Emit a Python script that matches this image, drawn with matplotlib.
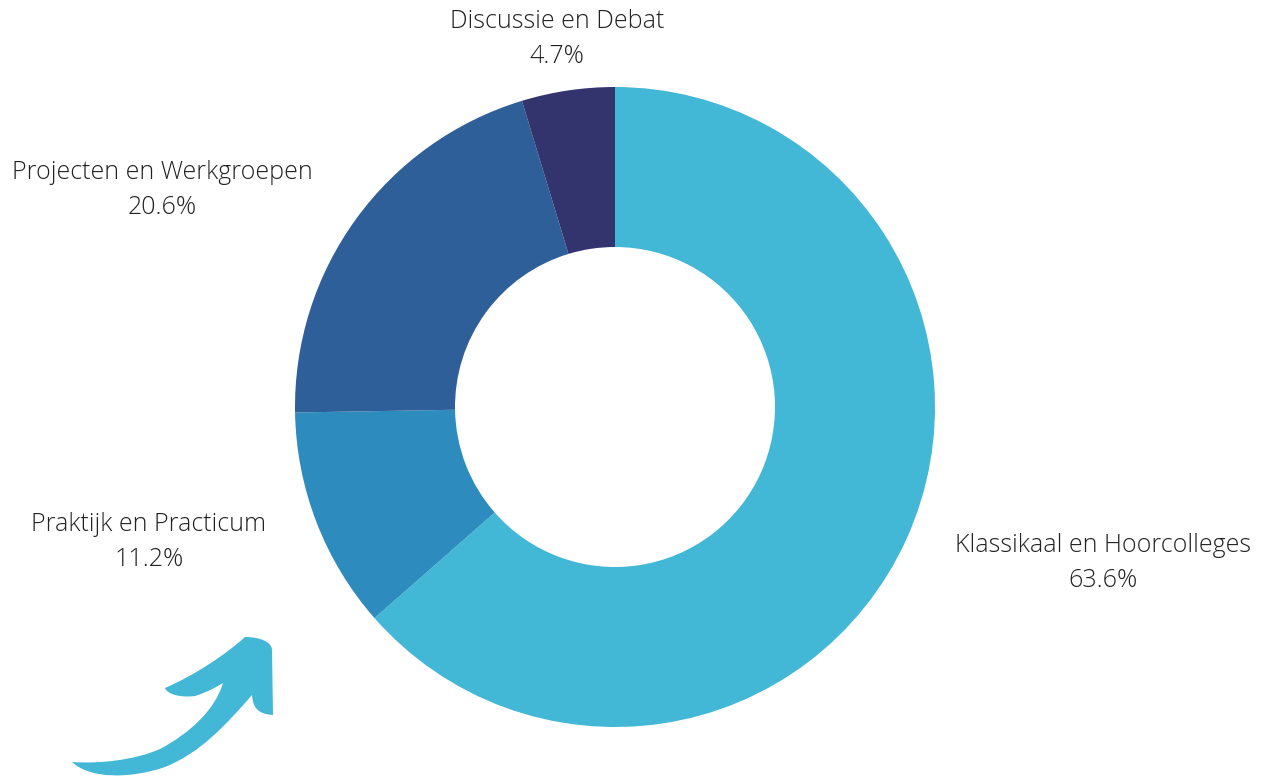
import matplotlib
matplotlib.use("Agg")
import matplotlib.pyplot as plt
from matplotlib.path import Path
from matplotlib.patches import PathPatch

# data
labels = ["Klassikaal en Hoorcolleges", "Praktijk en Practicum",
          "Projecten en Werkgroepen", "Discussie en Debat"]
shares = [63.6, 11.2, 20.6, 4.7]
colors = ["#42B7D6", "#2E8BBE", "#2F5F98", "#33336E"]

W, H = 1263, 781
fig = plt.figure(figsize=(W / 100, H / 100), dpi=100)
ax = fig.add_axes([0, 0, 1, 1])

cx, cy, R = 615, H - 407, 320
ax.pie(shares, colors=colors, startangle=90, counterclock=False,
       center=(cx, cy), radius=R, frame=True,
       wedgeprops=dict(width=R * 0.5, linewidth=0))
ax.set_xlim(0, W)
ax.set_ylim(0, H)
ax.set_aspect("equal")
ax.axis("off")

# label anchors in image px (centre of the two-line block)
label_pos = [(1103, 563), (149, 542), (162, 190), (557, 39)]
font = dict(family=["Open Sans", "DejaVu Sans"], fontweight="light",
            fontsize=18, color="#222222")
for lab, val, (x, y) in zip(labels, shares, label_pos):
    ax.text(x, H - y, f"{lab}\n{val:.1f}%", ha="center", va="center",
            linespacing=1.52, **font)

# hand-drawn style arrow, bottom left
pts = [
    (72, 762),
    (90, 779), (130, 779), (165, 767),
    (200, 753), (225, 726), (252, 695),
    (253, 708), (258, 714), (273, 715),
    (272, 650),
    (272, 642), (260, 637), (245, 637),
    (225, 655), (195, 675), (165, 688),
    (167, 694), (180, 698), (195, 696),
    (205, 693), (215, 688), (223, 683),
    (215, 710), (190, 733), (160, 749),
    (135, 760), (100, 764), (72, 762),
    (72, 762),
]
codes = ([Path.MOVETO] + [Path.CURVE4] * 6 + [Path.CURVE4] * 3 + [Path.LINETO]
         + [Path.CURVE4] * 18 + [Path.CLOSEPOLY])
arrow = Path([(x, H - y) for x, y in pts], codes)
ax.add_patch(PathPatch(arrow, facecolor="#42B7D6", edgecolor="none"))

fig.savefig("out.png", dpi=100)
